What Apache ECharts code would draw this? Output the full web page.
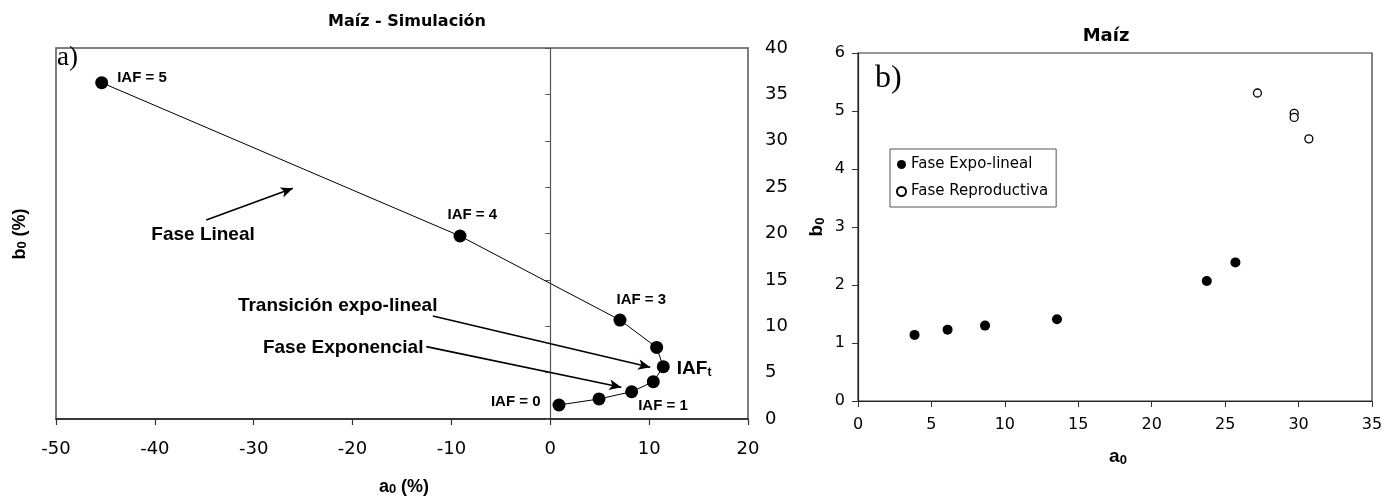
<!DOCTYPE html>
<html>
<head>
<meta charset="utf-8">
<script src="https://cdn.jsdelivr.net/npm/echarts@6/dist/echarts.min.js"></script>
<style>
  html, body { margin: 0; padding: 0; background: #fff; }
  #chart { width: 1398px; height: 497px; }
</style>
</head>
<body>
<div id="chart"></div>
<script>
// ---- Panel a) simulated trajectory, from IAF = 0 up to IAF = 5 ----
const simA0 = [0.88, 4.93, 8.23, 10.42, 11.43, 10.76, 7.05, -9.13, -45.38];
const simB0 = [1.51, 2.16, 2.94, 4.02, 5.64, 7.72, 10.67, 19.73, 36.26];
const simTags = ['IAF = 0', '', 'IAF = 1', '', 'IAFt', '', 'IAF = 3', 'IAF = 4', 'IAF = 5'];

// Phase notes of panel a): text anchor and arrow, in axis units
const phaseNames = ['Fase Lineal', 'Transición expo-lineal', 'Fase Exponencial'];
const phaseTextAt = [[-40.36, 19.89], [-31.6, 12.18], [-29.07, 7.69]];
const phaseArrowFrom = [[-34.8, 21.45], [-11.88, 11.1], [-12.54, 7.8]];
const phaseArrowTo = [[-26.04, 24.87], [10.11, 5.57], [7.18, 3.42]];

// Axis ranges of panel a)
const axA = { xMin: -50, xMax: 20, xStep: 10, yMin: 0, yMax: 40, yStep: 5 };

// ---- Panel b) measured coefficients ----
const expoA0 = [3.85, 6.1, 8.65, 13.55, 23.75, 25.7];
const expoB0 = [1.14, 1.23, 1.3, 1.41, 2.07, 2.39];
const reproA0 = [27.2, 29.7, 29.7, 30.7];
const reproB0 = [5.31, 4.96, 4.89, 4.52];

// Axis ranges of panel b)
const axB = { xMin: 0, xMax: 35, xStep: 5, yMin: 0, yMax: 6, yStep: 1 };

const SANS = 'DejaVu Sans';
const ARIAL = 'Liberation Sans';
const INK = '#000';

// label placement of the IAF tags, relative to each dot's box
const tagLayout = {
  'IAF = 0': { position: [-12, 3], align: 'right' },
  'IAF = 1': { position: [13, 21], align: 'left' },
  'IAFt':    { position: [20, 7], align: 'left' },
  'IAF = 3': { position: [3, -14], align: 'left' },
  'IAF = 4': { position: [-6, -15], align: 'left' },
  'IAF = 5': { position: [22, 2], align: 'left' }
};

const simData = simA0.map((x, i) => {
  const tag = simTags[i];
  const item = { value: [x, simB0[i]] };
  if (tag) {
    const lay = tagLayout[tag];
    const isT = tag === 'IAFt';
    item.label = {
      show: true,
      position: lay.position,
      align: lay.align,
      verticalAlign: 'middle',
      formatter: isT ? '{m|IAF}{s|t}' : tag,
      fontFamily: ARIAL,
      fontWeight: 'bold',
      fontSize: 15,
      color: INK,
      rich: isT ? {
        m: { fontFamily: ARIAL, fontWeight: 'bold', fontSize: 19, color: INK, lineHeight: 22, verticalAlign: 'bottom' },
        s: { fontFamily: ARIAL, fontWeight: 'bold', fontSize: 12, color: INK, lineHeight: 14, verticalAlign: 'bottom' }
      } : undefined
    };
  }
  return item;
});

const arrowData = phaseNames.map((t, i) => [{ coord: phaseArrowFrom[i] }, { coord: phaseArrowTo[i] }]);

const tickFont = (size) => ({ fontFamily: SANS, fontSize: size, color: INK });

const subRich = (size) => ({
  m: { fontFamily: ARIAL, fontWeight: 'bold', fontSize: size, fill: INK, lineHeight: size + 4, verticalAlign: 'bottom' },
  s: { fontFamily: ARIAL, fontWeight: 'bold', fontSize: Math.round(size * 0.7), fill: INK, lineHeight: Math.round(size * 0.7) + 2, verticalAlign: 'bottom' }
});

const chart = echarts.init(document.getElementById('chart'), null, { renderer: 'canvas' });

chart.setOption({
  animation: false,
  backgroundColor: '#fff',
  title: [
    { text: 'Maíz - Simulación', left: 402, top: 9, textAlign: 'center',
      textStyle: { fontFamily: SANS, fontWeight: 'bold', fontSize: 16, color: INK } },
    { text: 'Maíz', left: 1101, top: 22, textAlign: 'center',
      textStyle: { fontFamily: SANS, fontWeight: 'bold', fontSize: 18, color: INK } }
  ],
  legend: {
    data: ['Fase Expo-lineal', 'Fase Reproductiva'],
    orient: 'vertical',
    left: 890, top: 149,
    padding: [8, 8, 8, 6],
    itemGap: 12,
    itemWidth: 9, itemHeight: 9,
    borderColor: '#555', borderWidth: 1,
    backgroundColor: '#fff',
    textStyle: { fontFamily: SANS, fontSize: 15, color: INK },
    selectedMode: false
  },
  grid: [
    { left: 56, top: 48, width: 692, height: 371, show: true, borderColor: '#555', borderWidth: 1.5, backgroundColor: 'transparent' },
    { left: 858, top: 53, width: 514, height: 348, show: true, borderColor: '#333', borderWidth: 1.2, backgroundColor: 'transparent' }
  ],
  xAxis: [
    { type: 'value', gridIndex: 0, min: axA.xMin, max: axA.xMax, interval: axA.xStep,
      axisLine: { onZero: false, lineStyle: { color: '#222', width: 1.5 } },
      axisTick: { length: 6, lineStyle: { color: '#333', width: 1.2 } },
      axisLabel: Object.assign({ margin: 21 }, tickFont(18)),
      splitLine: { show: false } },
    { type: 'value', gridIndex: 1, min: axB.xMin, max: axB.xMax, interval: axB.xStep,
      axisLine: { onZero: false, lineStyle: { color: '#222', width: 1.2 } },
      axisTick: { length: 6, lineStyle: { color: '#333', width: 1 } },
      axisLabel: Object.assign({ margin: 16 }, tickFont(16)),
      splitLine: { show: false } }
  ],
  yAxis: [
    // vertical axis through a0 = 0, ticks only
    { type: 'value', gridIndex: 0, min: axA.yMin, max: axA.yMax, interval: axA.yStep,
      axisLine: { show: true, onZero: true, lineStyle: { color: '#555', width: 1.2 } },
      axisTick: { length: 5, lineStyle: { color: '#555', width: 1 } },
      axisLabel: { show: false },
      splitLine: { show: false } },
    // value labels on the right side of panel a)
    { type: 'value', gridIndex: 0, position: 'right', min: axA.yMin, max: axA.yMax, interval: axA.yStep,
      axisLine: { show: false }, axisTick: { show: false },
      axisLabel: Object.assign({ margin: 17 }, tickFont(18)),
      splitLine: { show: false } },
    { type: 'value', gridIndex: 1, min: axB.yMin, max: axB.yMax, interval: axB.yStep,
      axisLine: { onZero: false, lineStyle: { color: '#222', width: 1.2 } },
      axisTick: { length: 6, lineStyle: { color: '#333', width: 1 } },
      axisLabel: Object.assign({ margin: 13 }, tickFont(16)),
      splitLine: { show: false } }
  ],
  series: [
    { name: 'Trayectoria', type: 'line', xAxisIndex: 0, yAxisIndex: 0,
      data: simData,
      symbol: 'circle', symbolSize: 13,
      itemStyle: { color: '#000' },
      lineStyle: { color: '#000', width: 1 },
      emphasis: { disabled: true },
      markLine: {
        silent: true,
        symbol: ['none', 'arrow'],
        symbolSize: [8, 12],
        label: { show: false },
        lineStyle: { color: '#000', width: 1.6, type: 'solid' },
        data: arrowData
      },
      z: 3 },
    { name: 'Fase Expo-lineal', type: 'scatter', xAxisIndex: 1, yAxisIndex: 2,
      data: expoA0.map((x, i) => [x, expoB0[i]]),
      symbol: 'circle', symbolSize: 10,
      itemStyle: { color: '#000', opacity: 1 },
      emphasis: { disabled: true } },
    { name: 'Fase Reproductiva', type: 'scatter', xAxisIndex: 1, yAxisIndex: 2,
      data: reproA0.map((x, i) => [x, reproB0[i]]),
      symbol: 'circle', symbolSize: 8,
      itemStyle: { color: '#fff', borderColor: '#000', borderWidth: 1.3, opacity: 1 },
      emphasis: { disabled: true } }
  ],
  graphic: [
    { type: 'text', left: 57, top: 44, style: { text: 'a)', font: '27px "Liberation Serif"', fill: INK } },
    { type: 'text', left: 875, top: 63, style: { text: 'b)', font: '32px "Liberation Serif"', fill: INK } },
    // axis titles
    { type: 'text', x: 404, y: 485, style: { text: '{m|a}{s|0}{m| (%)}', rich: subRich(18), align: 'center', verticalAlign: 'middle' } },
    { type: 'text', x: 18, y: 234, rotation: Math.PI / 2, style: { text: '{m|b}{s|0}{m| (%)}', rich: subRich(18), align: 'center', verticalAlign: 'middle' } },
    { type: 'text', x: 1118, y: 455, style: { text: '{m|a}{s|0}', rich: subRich(19), align: 'center', verticalAlign: 'middle' } },
    { type: 'text', x: 815, y: 227, rotation: Math.PI / 2, style: { text: '{m|b}{s|0}', rich: subRich(19), align: 'center', verticalAlign: 'middle' } }
  ]
});

// phase names, placed through the axes of panel a)
const phaseLabels = phaseNames.map((t, i) => {
  const p = chart.convertToPixel({ gridIndex: 0 }, phaseTextAt[i]);
  return { type: 'text', x: p[0], y: p[1], z: 10,
    style: { text: t, fontFamily: ARIAL, fontWeight: 'bold', fontSize: 19, fill: INK, align: 'left', verticalAlign: 'middle' } };
});
chart.setOption({ graphic: chart.getOption().graphic[0].elements.concat(phaseLabels) }, { replaceMerge: ['graphic'] });
</script>
</body>
</html>
